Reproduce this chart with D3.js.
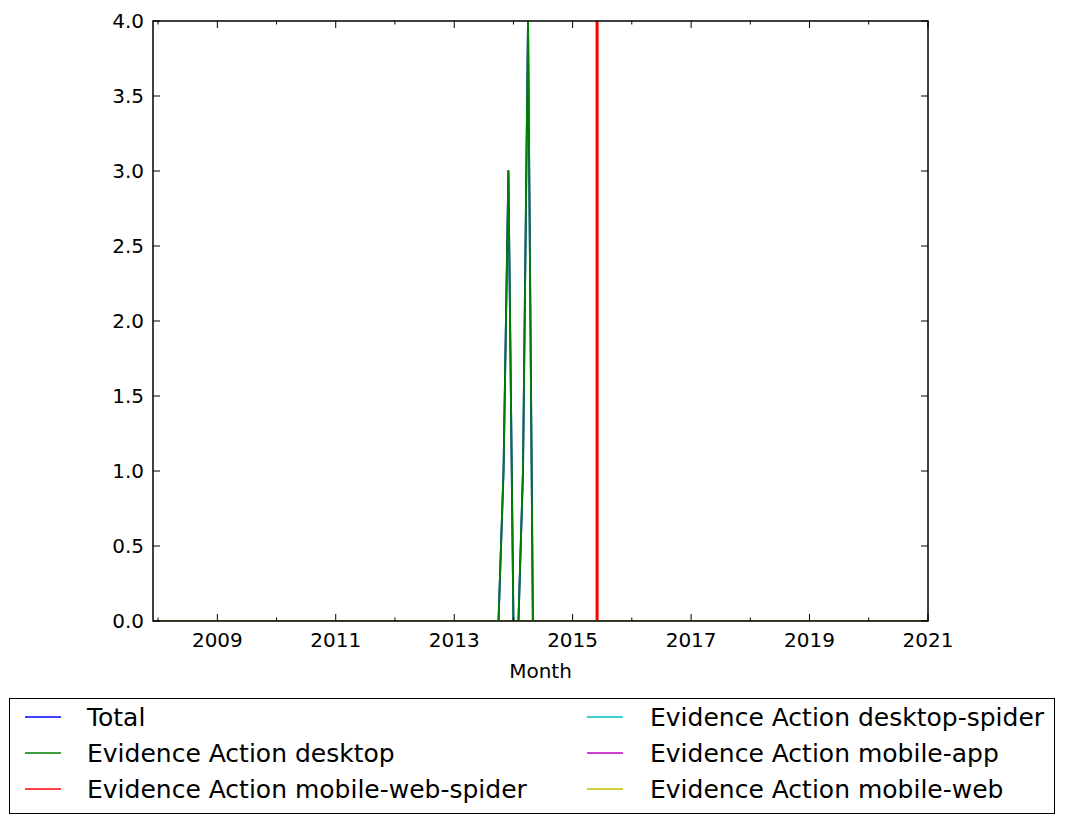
<!DOCTYPE html>
<html>
<head>
<meta charset="utf-8">
<script src="https://cdn.jsdelivr.net/npm/d3@7"></script>
<style>
  html, body { margin: 0; padding: 0; background: #fff; }
  svg { display: block; font-family: "DejaVu Sans", sans-serif; }
</style>
</head>
<body>
<svg id="chart" width="1065" height="824"></svg>
<script>
// ---------------- data ----------------
const months = ["2007-12", "2013-10", "2013-11", "2013-12", "2014-01", "2014-02", "2014-03", "2014-04", "2014-05", "2021-01"];
const totalValues = [0, 0, 1, 3, 0, 0, 1, 4, 0, 0];
const desktopValues = [0, 0, 1, 3, 0, 0, 1, 4, 0, 0];
const desktopSpiderValues = [0, 0, 0, 0, 0, 0, 0, 0, 0, 0];
const mobileAppValues = [0, 0, 0, 0, 0, 0, 0, 0, 0, 0];
const mobileWebValues = [0, 0, 0, 0, 0, 0, 0, 0, 0, 0];
const mobileWebSpiderValues = [0, 0, 0, 0, 0, 0, 0, 0, 0, 0];
const mobileWebSpiderSpikeMonth = "2015-06";
const seriesNames = ["Total", "Evidence Action desktop", "Evidence Action mobile-web-spider",
  "Evidence Action desktop-spider", "Evidence Action mobile-app", "Evidence Action mobile-web"];
const seriesColors = ["#0000ff", "#008000", "#ff0000", "#00bfbf", "#bf00bf", "#bfbf00"];
const xDomain = ["2007-12", "2021-01"];
const xMajorYears = [2009, 2011, 2013, 2015, 2017, 2019, 2021];
const xMinorYears = [2008, 2010, 2012, 2014, 2016, 2018, 2020];
const yTicks = [0, 0.5, 1, 1.5, 2, 2.5, 3, 3.5, 4];
const yMax = 4;
const xLabel = "Month";

// ---------------- layout ----------------
const parse = d3.timeParse("%Y-%m");
const L = 153, R = 928, T = 21, B = 621;
const svg = d3.select("#chart");
svg.append("rect").attr("width", 1065).attr("height", 824).attr("fill", "#fff");

const x = d3.scaleTime().domain(xDomain.map(parse)).range([L, R]);
const y = d3.scaleLinear().domain([0, yMax]).range([B, T]);

svg.append("defs").append("clipPath").attr("id", "clip")
  .append("rect").attr("x", L).attr("y", T).attr("width", R - L).attr("height", B - T);

const plot = svg.append("g").attr("clip-path", "url(#clip)");
const line = d3.line().x(d => x(d.t)).y(d => y(d.v));

function mk(vals) { return months.map((m, i) => ({ t: parse(m), v: vals[i] })); }

const seriesVals = [totalValues, desktopValues, mobileWebSpiderValues, desktopSpiderValues, mobileAppValues, mobileWebValues];
seriesVals.forEach((vals, i) => {
  plot.append("path").datum(mk(vals))
    .attr("d", line).attr("fill", "none")
    .attr("stroke", seriesColors[i]).attr("stroke-width", 1.9)
    .attr("stroke-linejoin", "round");
  if (i === 2) {
    const sx = x(parse(mobileWebSpiderSpikeMonth));
    plot.append("line").attr("x1", sx).attr("x2", sx)
      .attr("y1", y(0)).attr("y2", y(yMax) - 5)
      .attr("stroke", seriesColors[2]).attr("stroke-width", 3);
  }
});

// ---------------- axes / frame ----------------
const axesG = svg.append("g");
const tickColor = "#000";
xMajorYears.forEach(yr => {
  const tx = x(new Date(yr, 0, 1));
  axesG.append("line").attr("x1", tx).attr("x2", tx).attr("y1", B).attr("y2", B - 7).attr("stroke", tickColor).attr("stroke-width", 1);
  axesG.append("line").attr("x1", tx).attr("x2", tx).attr("y1", T).attr("y2", T + 7).attr("stroke", tickColor).attr("stroke-width", 1);
  axesG.append("text").attr("x", tx).attr("y", 647).attr("text-anchor", "middle")
    .attr("font-size", 20).attr("fill", "#000").text(d3.timeFormat("%Y")(new Date(yr, 0, 1)));
});
xMinorYears.forEach(yr => {
  const tx = x(new Date(yr, 0, 1));
  axesG.append("line").attr("x1", tx).attr("x2", tx).attr("y1", B).attr("y2", B - 3.5).attr("stroke", tickColor).attr("stroke-width", 1);
  axesG.append("line").attr("x1", tx).attr("x2", tx).attr("y1", T).attr("y2", T + 3.5).attr("stroke", tickColor).attr("stroke-width", 1);
});
yTicks.forEach(v => {
  const ty = y(v);
  axesG.append("line").attr("x1", L).attr("x2", L + 7).attr("y1", ty).attr("y2", ty).attr("stroke", tickColor).attr("stroke-width", 1);
  axesG.append("line").attr("x1", R).attr("x2", R - 7).attr("y1", ty).attr("y2", ty).attr("stroke", tickColor).attr("stroke-width", 1);
  axesG.append("text").attr("x", 144).attr("y", ty + 7.3).attr("text-anchor", "end")
    .attr("font-size", 20).attr("fill", "#000").text(d3.format(".1f")(v));
});
axesG.append("rect").attr("x", L).attr("y", T).attr("width", R - L).attr("height", B - T)
  .attr("fill", "none").attr("stroke", "#000").attr("stroke-width", 1.5);

axesG.append("text").attr("x", (L + R) / 2).attr("y", 678).attr("text-anchor", "middle")
  .attr("font-size", 20).attr("fill", "#000").text(xLabel);

// ---------------- legend ----------------
const lg = svg.append("g");
lg.append("rect").attr("x", 9.5).attr("y", 698.5).attr("width", 1045).attr("height", 115)
  .attr("fill", "#fff").attr("stroke", "#000").attr("stroke-width", 1);
const colX = [25, 587];
const textX = [87, 650];
const rowY = [717, 753, 789];
seriesNames.forEach((name, i) => {
  const c = Math.floor(i / 3), r = i % 3;
  lg.append("line").attr("x1", colX[c]).attr("x2", colX[c] + 36)
    .attr("y1", rowY[r]).attr("y2", rowY[r])
    .attr("stroke", seriesColors[i]).attr("stroke-width", 1.5);
  lg.append("text").attr("x", textX[c]).attr("y", rowY[r] + 9)
    .attr("font-size", 25).attr("fill", "#000").text(name);
});
</script>
</body>
</html>
